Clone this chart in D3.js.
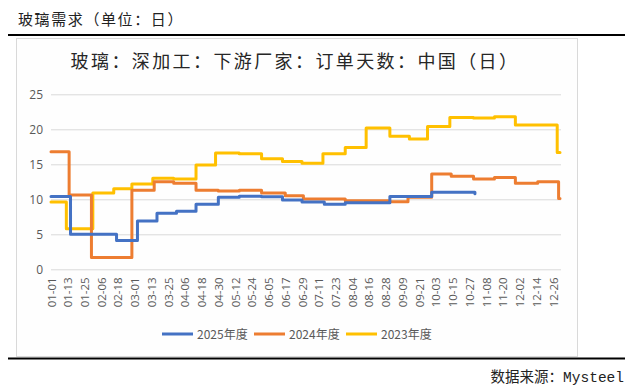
<!DOCTYPE html>
<html><head><meta charset="utf-8">
<script src="https://cdn.jsdelivr.net/npm/d3@7"></script>
<style>body{margin:0;background:#fff}svg{display:block}</style>
</head><body><svg id="c" width="632" height="392"></svg>
<script>
// ---- data (change points of weekly step series, MM-DD on a generic leap-year axis) ----
const tickLabels = ["01-01","01-13","01-25","02-06","02-18","03-01","03-13","03-25","04-06","04-18","04-30","05-12","05-24","06-05","06-17","06-29","07-11","07-23","08-04","08-16","08-28","09-09","09-21","10-03","10-15","10-27","11-08","11-20","12-02","12-14","12-26"];
const yTicks = [0,5,10,15,20,25];
const seriesNames = ["2025年度","2024年度","2023年度"];
const dates2025 = ["01-01","01-15","02-17","03-03","03-17","03-31","04-14","04-30","05-15","05-31","06-15","06-29","07-15","07-30","08-31","09-30","10-30","10-31"];
const values2025 = [10.4,5.0,4.1,6.9,8.0,8.3,9.3,10.3,10.45,10.35,9.9,9.6,9.3,9.5,10.4,11.0,11.0,10.8];
const dates2024 = ["01-01","01-14","01-30","02-28","03-15","03-29","04-14","04-30","05-15","05-31","06-17","06-30","07-30","08-30","09-13","09-30","10-14","10-30","11-14","11-29","12-15","12-30","12-31"];
const values2024 = [16.8,10.6,1.7,11.3,12.5,12.3,11.3,11.2,11.3,10.9,10.5,10.05,9.8,9.65,10.3,13.6,13.3,12.9,13.1,12.3,12.5,10.1,10.1];
const dates2023 = ["01-01","01-12","01-31","02-15","02-28","03-14","03-29","04-14","04-28","05-15","05-31","06-15","06-29","07-14","07-30","08-14","08-31","09-14","09-27","10-13","10-30","11-14","11-29","12-29","12-31"];
const values2023 = [9.6,5.8,10.9,11.5,12.2,13.0,12.9,14.9,16.6,16.5,15.8,15.4,15.15,16.5,17.4,20.2,19.0,18.6,20.4,21.7,21.6,21.8,20.6,16.7,16.7];
const colors = ["#4472C4","#ED7D31","#FFC000"];

// ---- drawing ----
const parse = d3.timeParse("%Y-%m-%d");
const toDate = s => parse("2024-" + s);
const svg = d3.select("#c");

svg.append("text").attr("x",18).attr("y",25).attr("font-family","Noto Sans CJK SC")
  .attr("font-size",15).attr("letter-spacing",1.6).attr("fill","#222").text("玻璃需求（单位：日）");
svg.append("line").attr("x1",8).attr("x2",625).attr("y1",35).attr("y2",35)
  .attr("stroke","#000").attr("stroke-width",2.2);

svg.append("rect").attr("x",16.5).attr("y",38.5).attr("width",561).attr("height",318)
  .attr("fill","#fefefe").attr("stroke","#d9d9d9");

svg.append("text").attr("x",295).attr("y",68).attr("text-anchor","middle")
  .attr("font-family","Noto Sans CJK SC").attr("font-size",18).attr("letter-spacing",2.4).attr("fill","#262626")
  .text("玻璃：深加工：下游厂家：订单天数：中国（日）");

const x = d3.scaleTime().domain([toDate("01-01"), toDate("12-31")]).range([51, 560]);
const y = d3.scaleLinear().domain([0,25]).range([269.3, 94.3]);

const gy = svg.append("g").attr("transform","translate(51,0)")
  .call(d3.axisLeft(y).tickValues(yTicks).tickSize(-510).tickPadding(8));
gy.select(".domain").remove();
gy.selectAll(".tick line").attr("stroke","#d9d9d9");
gy.selectAll(".tick text").attr("font-family","Open Sans, Noto Sans").attr("font-size",12).attr("fill","#595959");

const gx = svg.append("g").attr("transform","translate(0,269.3)")
  .call(d3.axisBottom(x).tickValues(tickLabels.map(toDate)).tickFormat(d3.timeFormat("%m-%d")).tickSize(0));
gx.select(".domain").remove();
gx.selectAll(".tick text").attr("font-family","Open Sans, Noto Sans").attr("font-size",11.5).attr("fill","#595959")
  .attr("transform","rotate(-90)").attr("text-anchor","end").attr("dx","-8").attr("dy","0.35em").attr("y",0);

const series = [
  dates2025.map((d,i)=>({d:toDate(d), v:values2025[i]})),
  dates2024.map((d,i)=>({d:toDate(d), v:values2024[i]})),
  dates2023.map((d,i)=>({d:toDate(d), v:values2023[i]}))
];
const line = d3.line().x(p=>x(p.d)).y(p=>y(p.v)).curve(d3.curveStepAfter);
[2,1,0].forEach(i=>{
  svg.append("path").attr("d", line(series[i])).attr("fill","none")
    .attr("stroke",colors[i]).attr("stroke-width",3).attr("stroke-linejoin","round").attr("stroke-linecap","round");
});

const legX = [162, 254, 346];
seriesNames.forEach((n,i)=>{
  svg.append("line").attr("x1",legX[i]).attr("x2",legX[i]+31).attr("y1",334).attr("y2",334)
    .attr("stroke",colors[i]).attr("stroke-width",3);
  svg.append("text").attr("x",legX[i]+35).attr("y",338.5).attr("font-family","Noto Sans CJK SC")
    .attr("font-size",12).attr("fill","#595959").text(n);
});

svg.append("line").attr("x1",8).attr("x2",625).attr("y1",358.5).attr("y2",358.5)
  .attr("stroke","#000").attr("stroke-width",2.2);
svg.append("text").attr("x",624).attr("y",382).attr("text-anchor","end")
  .attr("font-family","Liberation Mono, Noto Sans CJK SC").attr("font-size",14.5).attr("fill","#222")
  .text("数据来源：Mysteel");
</script></body></html>
